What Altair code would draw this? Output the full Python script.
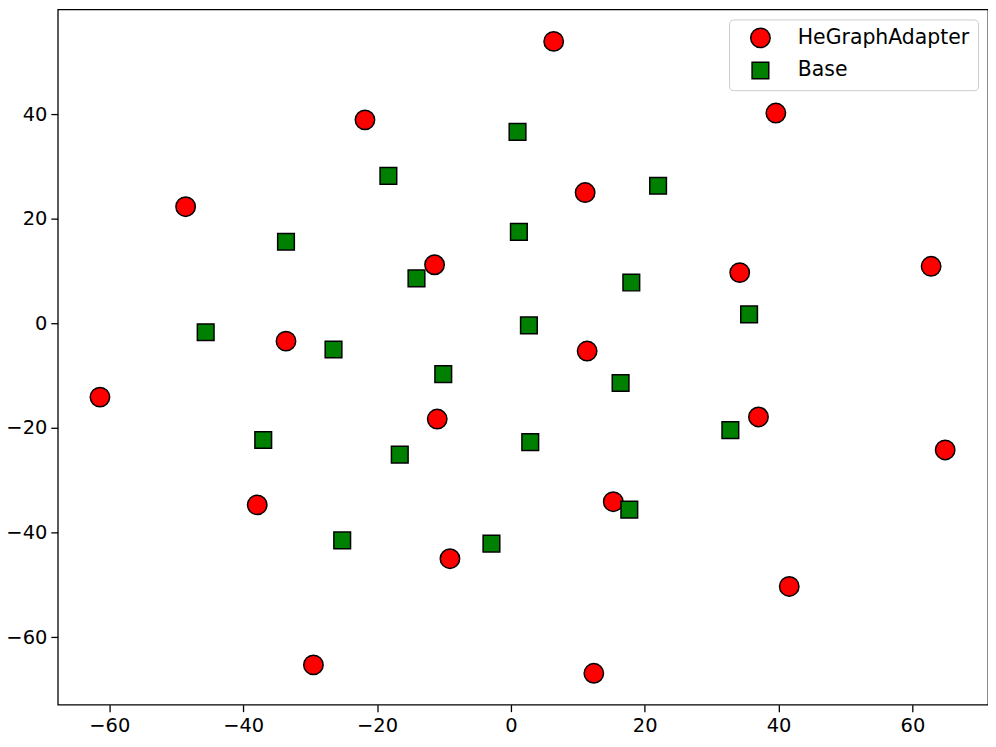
import altair as alt
import pandas as pd

series_names = ["HeGraphAdapter", "Base"]

he_x = [6.4, -21.8, 39.6, -48.6, 11.1, -11.4, 34.2, 62.8, -33.6, 11.4,
        -61.4, -11.0, 37.0, 64.9, -37.9, 15.3, -9.1, 41.6, -29.5, 12.4]
he_y = [53.9, 38.9, 40.2, 22.3, 25.0, 11.2, 9.7, 10.9, -3.4, -5.3,
        -14.1, -18.3, -17.9, -24.2, -34.7, -34.1, -45.0, -50.3, -65.3, -66.9]

base_x = [1.0, -18.3, 22.0, -33.6, 1.2, -14.1, 18.0, -45.6, 2.7, 35.6,
          -26.5, -10.1, 16.4, -37.0, -16.6, 2.9, 32.8, -25.2, -2.9, 17.7]
base_y = [36.6, 28.2, 26.3, 15.6, 17.5, 8.6, 7.8, -1.7, -0.4, 1.7,
          -5.0, -9.7, -11.4, -22.3, -25.1, -22.7, -20.4, -41.5, -42.1, -35.6]

x_ticks = [-60, -40, -20, 0, 20, 40, 60]
y_ticks = [-60, -40, -20, 0, 20, 40]

rows = []
for i, (x, y) in enumerate(zip(he_x, he_y)):
    rows.append({"x": x, "y": y, "series": series_names[0], "order": i})
for i, (x, y) in enumerate(zip(base_x, base_y)):
    rows.append({"x": x, "y": y, "series": series_names[1], "order": 100 + i})
df = pd.DataFrame(rows)

legend = alt.Legend(title=None)

chart = alt.Chart(df).mark_point(
    filled=True, opacity=1, stroke="black", strokeWidth=1.5
).encode(
    x=alt.X("x:Q", scale=alt.Scale(domain=[-67.7, 71.3], nice=False, zero=False),
            axis=alt.Axis(values=x_ticks, title=None, grid=False)),
    y=alt.Y("y:Q", scale=alt.Scale(domain=[-72.9, 60.0], nice=False, zero=False),
            axis=alt.Axis(values=y_ticks, title=None, grid=False)),
    color=alt.Color("series:N", scale=alt.Scale(domain=series_names, range=["#ff0000", "#008000"]), legend=legend),
    shape=alt.Shape("series:N", scale=alt.Scale(domain=series_names, range=["circle", "square"]), legend=legend),
    size=alt.Size("series:N", scale=alt.Scale(type="ordinal", domain=series_names, range=[380, 280]), legend=legend),
    order=alt.Order("order:Q"),
).properties(
    width=934, height=698,
    autosize=alt.AutoSizeParams(type="none"),
    padding={"left": 50, "top": 0, "right": 0, "bottom": 40},
).configure_view(
    stroke="black", strokeWidth=1.3
).configure_axis(
    domain=False,
    tickColor="black", tickWidth=1.3, tickSize=7,
    labelFont="DejaVu Sans", labelFontSize=19.5, labelColor="black",
).configure_axisX(
    labelPadding=5,
).configure_axisY(
    labelPadding=4,
).configure_legend(
    orient="none", legendX=674, legendY=10,
    padding=8, symbolOffset=13, labelOffset=27, rowPadding=7,
    labelFont="DejaVu Sans", labelFontSize=20.5, labelColor="black", labelLimit=400,
    strokeColor="#cccccc", fillColor="white", cornerRadius=4,
    symbolStrokeColor="black", symbolStrokeWidth=1.5,
)

chart.save("out.html", embed_options={"renderer": "svg", "actions": False})
